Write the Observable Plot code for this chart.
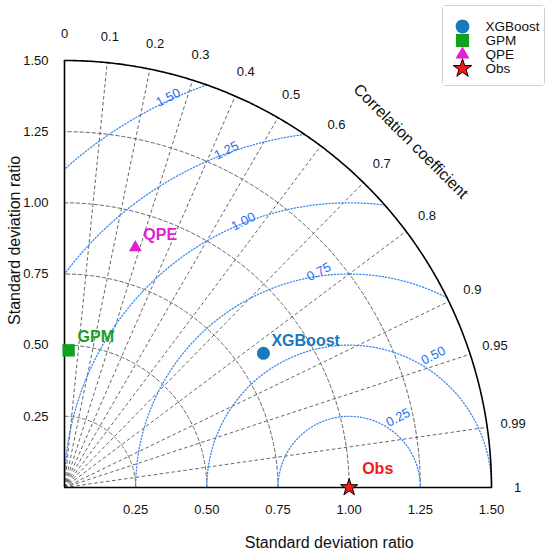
<!DOCTYPE html>
<html>
<head>
<meta charset="utf-8">
<script src="https://cdn.jsdelivr.net/npm/d3@7"></script>
<script src="https://cdn.jsdelivr.net/npm/@observablehq/plot@0.6"></script>
<style>
  html, body { margin: 0; padding: 0; background: #fff; }
  #wrap { position: relative; width: 550px; height: 553px; font-family: "Liberation Sans", Arial, sans-serif; }
  #legend { position: absolute; left: 442px; top: 5px; width: 101px; height: 79px; border: 1px solid #cfcfcf; border-radius: 4px; background: #fff; }
</style>
</head>
<body>
<div id="wrap"><div id="chart"></div><div id="legend"></div></div>
<script>
// ---- data ----
const names = ["XGBoost", "GPM", "QPE", "Obs"];
const stdRatio = [0.843, 0.482, 0.879, 1.0];
const correlation = [0.829, 0.03, 0.283, 1.0];
const stdTicks = [0.25, 0.5, 0.75, 1.0, 1.25, 1.5];
const stdGrid = [0.25, 0.5, 0.75, 1.0, 1.25];
const corrGrid = [0.1, 0.2, 0.3, 0.4, 0.5, 0.6, 0.7, 0.8, 0.9, 0.95, 0.99];
const corrLabels = [0, 0.1, 0.2, 0.3, 0.4, 0.5, 0.6, 0.7, 0.8, 0.9, 0.95, 0.99, 1];
const rmsLevels = [0.25, 0.5, 0.75, 1.0, 1.25, 1.5];

// ---- styles / layout ----
const seriesStyle = {
  XGBoost: {symbol: "circle", fill: "#1a78bd", r: 6.5, dx: 8, dy: -12},
  GPM: {symbol: "square", fill: "#13a01f", r: 7, dx: 9, dy: -13},
  QPE: {symbol: "triangle", fill: "#e11fd2", r: 4.8, dx: 8, dy: -13},
  Obs: {symbol: "star", fill: "#f01c1c", r: 5.4, dx: 13, dy: -19, stroke: "#000"}
};
// label placement on each RMS circle: [angle from (1,0) in degrees, distance]
const rmsLabelPlace = {0.25: [55, 0.30], 0.5: [57.5, 0.55], 0.75: [98, 0.765], 1: [111.7, 1.006], 1.25: [110, 1.26], 1.5: [114.9, 1.51]};
const RMAX = 1.5;
const rad = Math.PI / 180;
const gray = "#555";
const blue = "#3d8af2";

const pts = names.map((n, i) => ({
  name: n,
  x: stdRatio[i] * correlation[i],
  y: stdRatio[i] * Math.sqrt(1 - correlation[i] ** 2)
}));

const stdArcs = stdGrid.flatMap(s => d3.range(0, 90.01, 0.5).map(a => ({s, x: s * Math.cos(a * rad), y: s * Math.sin(a * rad)})));
const outerArc = d3.range(0, 90.01, 0.25).map(a => ({x: RMAX * Math.cos(a * rad), y: RMAX * Math.sin(a * rad)}));
const rmsArcs = rmsLevels.flatMap(r => d3.range(0, 180.001, 0.05)
  .map(a => ({r, x: 1 + r * Math.cos(a * rad), y: r * Math.sin(a * rad)}))
  .filter(p => p.x >= -1e-9 && Math.hypot(p.x, p.y) <= RMAX + 1e-9));

const fmt2 = d3.format(".2f");
const corrFmt = c => c === 0 ? "0" : c === 1 ? "1" : String(c);

const marks = [
  // std deviation arcs
  Plot.line(stdArcs, {x: "x", y: "y", z: "s", stroke: gray, strokeWidth: 0.9, strokeDasharray: "3.5,2.5"}),
  // correlation radial lines
  Plot.link(corrGrid, {x1: () => 0, y1: () => 0, x2: c => RMAX * c, y2: c => RMAX * Math.sqrt(1 - c * c), stroke: gray, strokeWidth: 0.9, strokeDasharray: "3.5,2.5"}),
  // RMS contours
  Plot.line(rmsArcs, {x: "x", y: "y", z: "r", stroke: blue, strokeWidth: 1.3, strokeDasharray: "1.2,2"}),
  Plot.text(rmsLevels, {
    x: r => 1 + rmsLabelPlace[r][1] * Math.cos(rmsLabelPlace[r][0] * rad),
    y: r => rmsLabelPlace[r][1] * Math.sin(rmsLabelPlace[r][0] * rad),
    text: r => fmt2(r), rotate: -27, fill: "#1f6ff5", fontSize: 13
  }),
  // outer arc & axes lines
  Plot.line(outerArc, {x: "x", y: "y", stroke: "#000", strokeWidth: 1.6}),
  Plot.ruleX([0], {y1: 0, y2: RMAX, stroke: "#000", strokeWidth: 1.6}),
  Plot.ruleY([0], {x1: 0, x2: RMAX, stroke: "#000", strokeWidth: 1.6}),
  Plot.axisX({ticks: stdTicks, tickFormat: fmt2, tickSize: 0, tickPadding: 17, label: null, fontSize: 13}),
  Plot.axisY({ticks: stdTicks, tickFormat: fmt2, tickSize: 0, tickPadding: 16, label: null, fontSize: 13}),
  // correlation labels
  Plot.text(corrLabels, {x: c => 1.592 * c, y: c => 1.592 * Math.sqrt(1 - c * c), text: corrFmt, fontSize: 13, fill: "#111"}),
  Plot.text(["Correlation coefficient"], {x: () => 1.72 * Math.cos(45 * rad), y: () => 1.72 * Math.sin(45 * rad), text: d => d, rotate: 45, fontSize: 16, fill: "#111"}),
  // axis titles
  Plot.text(["Standard deviation ratio"], {x: () => 0.93, y: () => 0, dy: 55, text: d => d, fontSize: 16, fill: "#111"}),
  Plot.text(["Standard deviation ratio"], {x: () => 0, y: () => 0.868, dx: -50, text: d => d, rotate: -90, fontSize: 16, fill: "#111"})
];

for (const p of pts) {
  const s = seriesStyle[p.name];
  marks.push(Plot.dot([p], {x: "x", y: "y", symbol: () => s.symbol, r: s.r, fill: s.fill, stroke: s.stroke || "none", strokeWidth: 1}));
  marks.push(Plot.text([p], {x: "x", y: "y", text: "name", dx: s.dx, dy: s.dy, textAnchor: "start", fontWeight: "bold", fontSize: 16, fill: s.fill}));
}

const chart = Plot.plot({
  width: 550, height: 553,
  marginLeft: 64, marginRight: 59, marginTop: 60, marginBottom: 66,
  x: {domain: [0, RMAX]},
  y: {domain: [0, RMAX]},
  symbol: {type: "identity"},
  style: {fontFamily: "Liberation Sans, Arial, sans-serif", fontSize: "13px", color: "#111", background: "white", overflow: "visible"},
  marks
});
document.getElementById("chart").appendChild(chart);

// legend
const legend = Plot.plot({
  width: 101, height: 79, margin: 0,
  y: {type: "point", domain: names, range: [12, 70], axis: null},
  symbol: {type: "identity"},
  style: {fontFamily: "Liberation Sans, Arial, sans-serif", fontSize: "13.5px", color: "#111", background: "white", overflow: "visible"},
  marks: [
    ...names.map(n => Plot.dot([n], {y: d => d, frameAnchor: "left", dx: 19, symbol: () => seriesStyle[n].symbol, r: seriesStyle[n].r + 0.4, fill: seriesStyle[n].fill, stroke: seriesStyle[n].stroke || "none", strokeWidth: 1})),
    Plot.text(names, {y: d => d, text: d => d, frameAnchor: "left", dx: 42, textAnchor: "start", fontSize: 13.5, fill: "#111"})
  ]
});
document.getElementById("legend").appendChild(legend);
</script>
</body>
</html>
